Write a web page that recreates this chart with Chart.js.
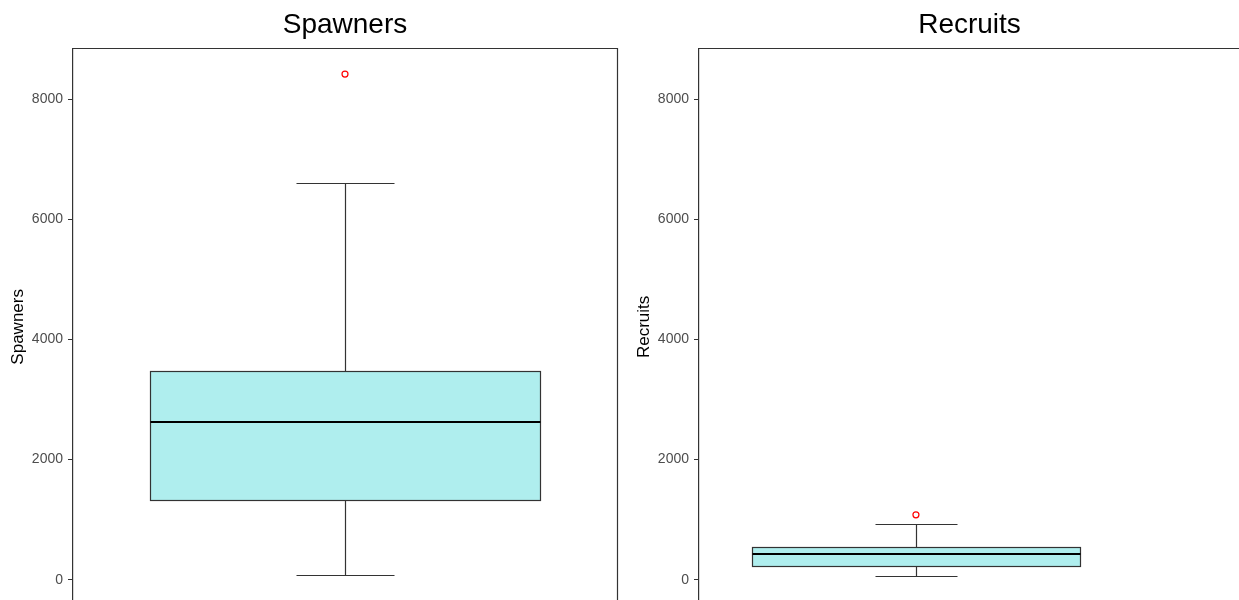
<!DOCTYPE html>
<html>
<head>
<meta charset="utf-8">
<script src="https://cdn.jsdelivr.net/npm/chart.js@4.4.1/dist/chart.umd.min.js"></script>
<style>
body { margin: 0; background: #fff; overflow: hidden; width: 1239px; height: 600px; position: relative; }
canvas { position: absolute; top: 0; }
</style>
</head>
<body>
<canvas id="spawners" width="626" height="619" style="left:0"></canvas>
<canvas id="recruits" width="623" height="619" style="left:626px"></canvas>
<script>
const categories = ['Spawners', 'Recruits'];
const lowerWhisker = [83, 61];
const q1 = [1331, 221];
const median = [2628, 437];
const q3 = [3476, 549];
const upperWhisker = [6603, 936];
const outliers = [[8416], [1081]];
const yTicks = [0, 2000, 4000, 6000, 8000];

// where the box sits inside each panel (x runs 0..1 across the plot area)
const boxCenter = [0.5, 0.401];
const boxHalf = [0.358, 0.303];

const font = 'Liberation Sans, Arial, sans-serif';

const crisp = v => Math.round(v) + 0.5;

const boxPlugin = {
  id: 'box',
  beforeDatasetsDraw(chart, args, opts) {
    const ctx = chart.ctx;
    const x = chart.scales.x, y = chart.scales.y;
    const i = opts.index;
    const c = boxCenter[i], h = boxHalf[i];
    const cx = crisp(x.getPixelForValue(c));
    const bl = crisp(x.getPixelForValue(c - h));
    const br = crisp(x.getPixelForValue(c + h));
    const wl = crisp(x.getPixelForValue(c - h / 4));
    const wr = crisp(x.getPixelForValue(c + h / 4));
    const yq1 = crisp(y.getPixelForValue(q1[i]));
    const yq3 = crisp(y.getPixelForValue(q3[i]));
    const ymed = Math.round(y.getPixelForValue(median[i]));
    const ylo = crisp(y.getPixelForValue(lowerWhisker[i]));
    const yhi = crisp(y.getPixelForValue(upperWhisker[i]));
    ctx.save();
    ctx.strokeStyle = '#333333';
    ctx.lineWidth = 1.2;
    ctx.beginPath();
    // whiskers
    ctx.moveTo(cx, yq3); ctx.lineTo(cx, yhi);
    ctx.moveTo(wl, yhi); ctx.lineTo(wr, yhi);
    ctx.moveTo(cx, yq1); ctx.lineTo(cx, ylo);
    ctx.moveTo(wl, ylo); ctx.lineTo(wr, ylo);
    ctx.stroke();
    // box
    ctx.fillStyle = '#AFEEEE';
    ctx.fillRect(bl, yq3, br - bl, yq1 - yq3);
    ctx.strokeRect(bl, yq3, br - bl, yq1 - yq3);
    // median
    ctx.strokeStyle = '#000000';
    ctx.lineWidth = 2.2;
    ctx.beginPath();
    ctx.moveTo(bl, ymed); ctx.lineTo(br, ymed);
    ctx.stroke();
    ctx.restore();
  },
  afterDraw(chart) {
    // panel frame: top, right and bottom (left side is the y axis line)
    const a = chart.chartArea, ctx = chart.ctx;
    const l = crisp(a.left), r = crisp(a.right), t = crisp(a.top), b = crisp(a.bottom);
    ctx.save();
    ctx.strokeStyle = '#333333';
    ctx.lineWidth = 1.2;
    ctx.beginPath();
    ctx.moveTo(l - 1, t); ctx.lineTo(r, t); ctx.lineTo(r, b); ctx.lineTo(l - 1, b);
    ctx.stroke();
    ctx.restore();
  }
};

function makeChart(id, i) {
  new Chart(document.getElementById(id), {
    type: 'scatter',
    data: {
      datasets: [{
        data: outliers[i].map(v => ({ x: boxCenter[i], y: v })),
        pointRadius: 3,
        pointBorderColor: '#FF0000',
        pointBackgroundColor: '#FFFFFF',
        pointBorderWidth: 1.2
      }]
    },
    options: {
      responsive: false,
      animation: false,
      layout: { autoPadding: false, padding: { left: 0, right: 9, top: 0, bottom: 12 } },
      plugins: {
        legend: { display: false },
        tooltip: { enabled: false },
        title: {
          display: true,
          text: categories[i],
          fullSize: false,
          color: '#000',
          font: { family: font, size: 28, weight: 'normal' },
          padding: { top: 8, bottom: 6.5 }
        },
        box: { index: i }
      },
      scales: {
        x: { type: 'linear', min: 0, max: 1, display: false },
        y: {
          min: -430,
          max: 8848,
          afterBuildTicks: s => { s.ticks = yTicks.map(v => ({ value: v })); },
          afterFit: s => { s.width = 73; },
          border: { display: true, color: '#333333', width: 1.2 },
          grid: { drawOnChartArea: false, drawTicks: true, tickLength: 5, color: '#333333' },
          ticks: {
            color: '#4D4D4D',
            font: { family: font, size: 14 },
            padding: 5,
            callback: v => String(v)
          },
          title: {
            display: true,
            text: categories[i],
            color: '#000',
            font: { family: font, size: 17 },
            padding: { top: 8, bottom: 0 }
          }
        }
      }
    },
    plugins: [boxPlugin]
  });
}

makeChart('spawners', 0);
makeChart('recruits', 1);
</script>
</body>
</html>
